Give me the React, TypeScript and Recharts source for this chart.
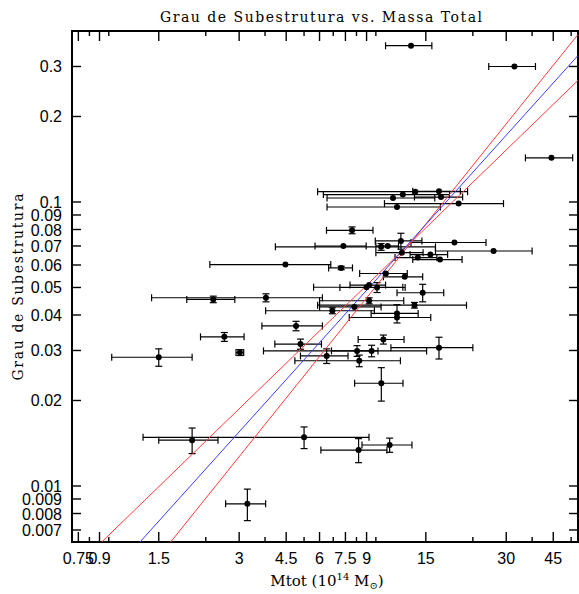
import { ErrorBar, ReferenceArea, Scatter, ScatterChart, XAxis, YAxis } from "recharts";

// Mtot in 10^14 Msun (errors are half-widths)
const masses = [
  13.2, 32.2, 44.3, 13.7, 16.8, 12.3, 11.3, 17.1, 19.9, 11.7,
  7.94, 12.1, 19.2, 7.37, 10.2, 10.8, 26.9, 12.2, 15.6, 14.0,
  16.95, 4.47, 7.23, 10.63, 12.5, 9.0, 9.2, 9.85, 2.4, 3.78,
  14.6, 9.2, 13.6, 8.1, 6.7, 11.7, 11.7, 4.9, 5.09, 3.02,
  10.4, 16.8, 9.4, 8.29, 6.38, 8.45, 1.5, 2.64, 10.22, 10.98,
  8.4, 5.25, 2.0, 3.22
];
const massErrors = [
  2.6, 6.4, 8.9, 7.8, 3.4, 6.1, 4.9, 3.5, 9.4, 5.3,
  1.57, 2.4, 6.0, 1.6, 6.1, 1.05, 10.6, 2.45, 2.5, 2.5,
  3.55, 2.14, 0.74, 2.15, 2.1, 3.3, 1.4, 2.7, 0.49, 2.37,
  2.9, 3.2, 7.7, 2.1, 2.93, 2.34, 3.95, 1.25, 1.01, 0.1,
  2.03, 5.7, 5.7, 1.64, 1.29, 3.6, 0.5, 0.49, 2.1, 2.33,
  2.33, 3.94, 0.5, 0.55
];
const substructure = [
  0.355, 0.3, 0.143, 0.1087, 0.109, 0.1062, 0.1033, 0.1041, 0.0987, 0.096,
  0.0795, 0.0729, 0.072, 0.07, 0.0695, 0.07, 0.0672, 0.0663, 0.0653, 0.0637,
  0.0627, 0.0602, 0.0586, 0.056, 0.0545, 0.0501, 0.051, 0.05, 0.0454, 0.046,
  0.0479, 0.0449, 0.0433, 0.0427, 0.0414, 0.0405, 0.0392, 0.0366, 0.0316, 0.0295,
  0.0328, 0.0307, 0.0299, 0.0299, 0.0287, 0.0276, 0.0284, 0.0335, 0.023, 0.01394,
  0.01338, 0.01484, 0.0145, 0.00865
];
const substructureErrors = [
  0, 0, 0, 0, 0, 0, 0, 0, 0, 0,
  0.0022, 0.0047, 0, 0, 0.0019, 0, 0, 0, 0, 0,
  0, 0, 0.0008, 0, 0, 0, 0, 0.002, 0.0012, 0.0015,
  0.0034, 0.0011, 0.001, 0, 0.001, 0.003, 0, 0.0014, 0.0013, 0.0007,
  0.0012, 0.0027, 0.0014, 0.0013, 0.0017, 0.0013, 0.002, 0.0012, 0.0031, 0.0008,
  0.0013, 0.0013, 0.0015, 0.0011
];

// fit and its two bounds, end points read where they meet the frame
const fitLine = [{ x: 1.276, y: 0.00635 }, { x: 55.7, y: 0.328 }];
const shallowBound = [{ x: 0.917, y: 0.00635 }, { x: 55.7, y: 0.268 }];
const steepBound = [{ x: 1.662, y: 0.00635 }, { x: 55.7, y: 0.389 }];

const xLabelTicks = [0.75, 0.9, 1.5, 3, 4.5, 6, 7.5, 9, 15, 30, 45];
const xMinorTicks = [0.825, 0.975, 2.25, 3.75, 5.25, 6.75, 8.25, 9.75, 22.5, 37.5, 52.5];
const yTicks = [0.007, 0.008, 0.009, 0.01, 0.02, 0.03, 0.04, 0.05, 0.06, 0.07, 0.08, 0.09, 0.1, 0.2, 0.3];

const xDomain = [0.71, 55.7];
const yDomain = [0.00635, 0.4];

const W = 579;
const H = 594;
const LEFT = 72;
const TOP = 31;
const RIGHT = 578;
const BOTTOM = 542;

const tickFont = "'Liberation Sans', Arial, sans-serif";
const labelFont = "'DejaVu Serif', serif";

const clusters = masses.map((m, i) => ({
  x: m,
  y: substructure[i],
  dx: massErrors[i],
  dy: substructureErrors[i]
}));
const xTicks = [...xLabelTicks, ...xMinorTicks].sort((a, b) => a - b);

function XTick(props: any) {
  const x = props.x;
  const v = props.payload.value;
  const major = xLabelTicks.includes(v);
  const len = major ? 10 : 5;
  return (
    <g>
      <line x1={x} y1={BOTTOM} x2={x} y2={BOTTOM - len} stroke="#000" strokeWidth={1.4} />
      <line x1={x} y1={TOP} x2={x} y2={TOP + len} stroke="#000" strokeWidth={1.4} />
      {major && (
        <text x={x} y={BOTTOM + 22} textAnchor="middle" fontFamily={tickFont} fontSize={16} fill="#000">
          {String(v)}
        </text>
      )}
    </g>
  );
}

function YTick(props: any) {
  const y = props.y;
  const v = props.payload.value;
  return (
    <g>
      <line x1={LEFT} y1={y} x2={LEFT + 9} y2={y} stroke="#000" strokeWidth={1.4} />
      <line x1={RIGHT} y1={y} x2={RIGHT - 9} y2={y} stroke="#000" strokeWidth={1.4} />
      <text x={62} y={y + 6} textAnchor="end" fontFamily={tickFont} fontSize={16} fill="#000">
        {String(v)}
      </text>
    </g>
  );
}

function Dot(props: any) {
  return <circle cx={props.cx} cy={props.cy} r={3} fill="#000" />;
}

function NoDot() {
  return <g />;
}

export default function App() {
  return (
    <div style={{ position: "absolute", left: 0, top: 0, width: W, height: H, background: "#fff" }}>
      <ScatterChart width={W} height={H} margin={{ top: TOP, right: W - RIGHT, bottom: 0, left: 0 }}>
        <XAxis
          type="number"
          dataKey="x"
          scale="log"
          domain={xDomain}
          allowDataOverflow
          ticks={xTicks}
          interval={0}
          tick={XTick}
          tickLine={false}
          axisLine={false}
          tickSize={0}
          tickMargin={0}
          height={H - BOTTOM}
        />
        <YAxis
          type="number"
          dataKey="y"
          scale="log"
          domain={yDomain}
          allowDataOverflow
          ticks={yTicks}
          interval={0}
          tick={YTick}
          tickLine={false}
          axisLine={false}
          tickSize={0}
          tickMargin={0}
          width={LEFT}
        />
        <Scatter data={shallowBound} line={{ stroke: "#ff3c3c", strokeWidth: 1 }} shape={NoDot} isAnimationActive={false} />
        <Scatter data={steepBound} line={{ stroke: "#ff3c3c", strokeWidth: 1 }} shape={NoDot} isAnimationActive={false} />
        <Scatter data={fitLine} line={{ stroke: "#3c3cff", strokeWidth: 1 }} shape={NoDot} isAnimationActive={false} />
        <Scatter data={clusters} shape={Dot} isAnimationActive={false}>
          <ErrorBar dataKey="dx" direction="x" width={3.5} stroke="#000" strokeWidth={1.2} isAnimationActive={false} />
          <ErrorBar dataKey="dy" direction="y" width={3.5} stroke="#000" strokeWidth={1.2} isAnimationActive={false} />
        </Scatter>
        <ReferenceArea
          x1={xDomain[0]}
          x2={xDomain[1]}
          y1={yDomain[0]}
          y2={yDomain[1]}
          fill="none"
          fillOpacity={0}
          stroke="#000"
          strokeWidth={2}
          ifOverflow="visible"
        />
      </ScatterChart>
      <svg width={W} height={H} style={{ position: "absolute", left: 0, top: 0, pointerEvents: "none" }}>
        <text x={321} y={22} textAnchor="middle" fontFamily={labelFont} fontSize={14} textLength={322} fill="#000">
          Grau de Subestrutura vs. Massa Total
        </text>
        <text
          x={23}
          y={287}
          transform="rotate(-90 23 287)"
          textAnchor="middle"
          fontFamily={labelFont}
          fontSize={14}
          textLength={187}
          fill="#000"
        >
          Grau de Subestrutura
        </text>
        <text x={327} y={586} textAnchor="middle" fontFamily={labelFont} fontSize={15} fill="#000">
          Mtot (10
          <tspan fontSize={10} dy={-6}>14</tspan>
          <tspan dy={6}> M</tspan>
          <tspan fontSize={10} dy={3}>⊙</tspan>
          <tspan dy={-3}>)</tspan>
        </text>
      </svg>
    </div>
  );
}
